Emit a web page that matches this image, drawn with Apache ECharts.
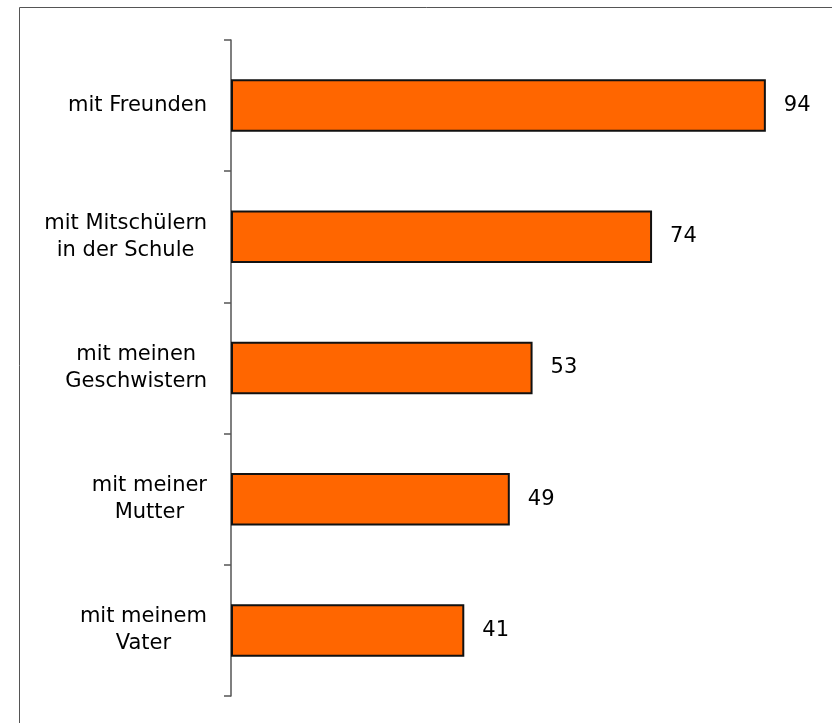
<!DOCTYPE html>
<html>
<head>
<meta charset="utf-8">
<script src="https://cdn.jsdelivr.net/npm/echarts@6/dist/echarts.min.js"></script>
<style>
html,body{margin:0;padding:0;background:#fff;}
#c{width:832px;height:723px;}
</style>
</head>
<body>
<div id="c"></div>
<script>
const categories = [
  'mit Freunden',
  'mit Mitschülern\nin der Schule',
  'mit meinen\nGeschwistern',
  'mit meiner\nMutter',
  'mit meinem\nVater'
];
const values = [94, 74, 53, 49, 41];

const chart = echarts.init(document.getElementById('c'), null, {renderer: 'canvas'});
const FONT = 'DejaVu Sans';
chart.setOption({
  backgroundColor: '#fff',
  animation: false,
  graphic: [{
    type: 'rect',
    shape: {x: 19.5, y: 7.5, width: 1000, height: 1000},
    style: {fill: 'none', stroke: '#555', lineWidth: 1},
    silent: true
  }],
  grid: {left: 231, right: 32, top: 40, bottom: 27, containLabel: false},
  xAxis: {
    type: 'value', min: 0, max: 100, show: false
  },
  yAxis: {
    type: 'category',
    data: categories,
    inverse: true,
    axisLine: {show: true, lineStyle: {color: '#555', width: 1.5}},
    axisTick: {show: true, length: 7, lineStyle: {color: '#555', width: 1.5}},
    splitLine: {show: false},
    axisLabel: {
      margin: 24,
      align: 'right',
      formatter: function (v) {
        return v.split('\n').map(function (l) { return '{a|' + l + '}'; }).join('\n');
      },
      rich: {
        a: {align: 'center', fontFamily: FONT, fontSize: 21, color: '#000', lineHeight: 27}
      }
    }
  },
  series: [{
    type: 'bar',
    data: values,
    barWidth: '40%',
    itemStyle: {color: '#FF6600', borderColor: '#111', borderWidth: 2},
    label: {
      show: true,
      position: 'right',
      distance: 18,
      fontFamily: FONT,
      fontSize: 21,
      color: '#000'
    }
  }]
});
</script>
</body>
</html>
